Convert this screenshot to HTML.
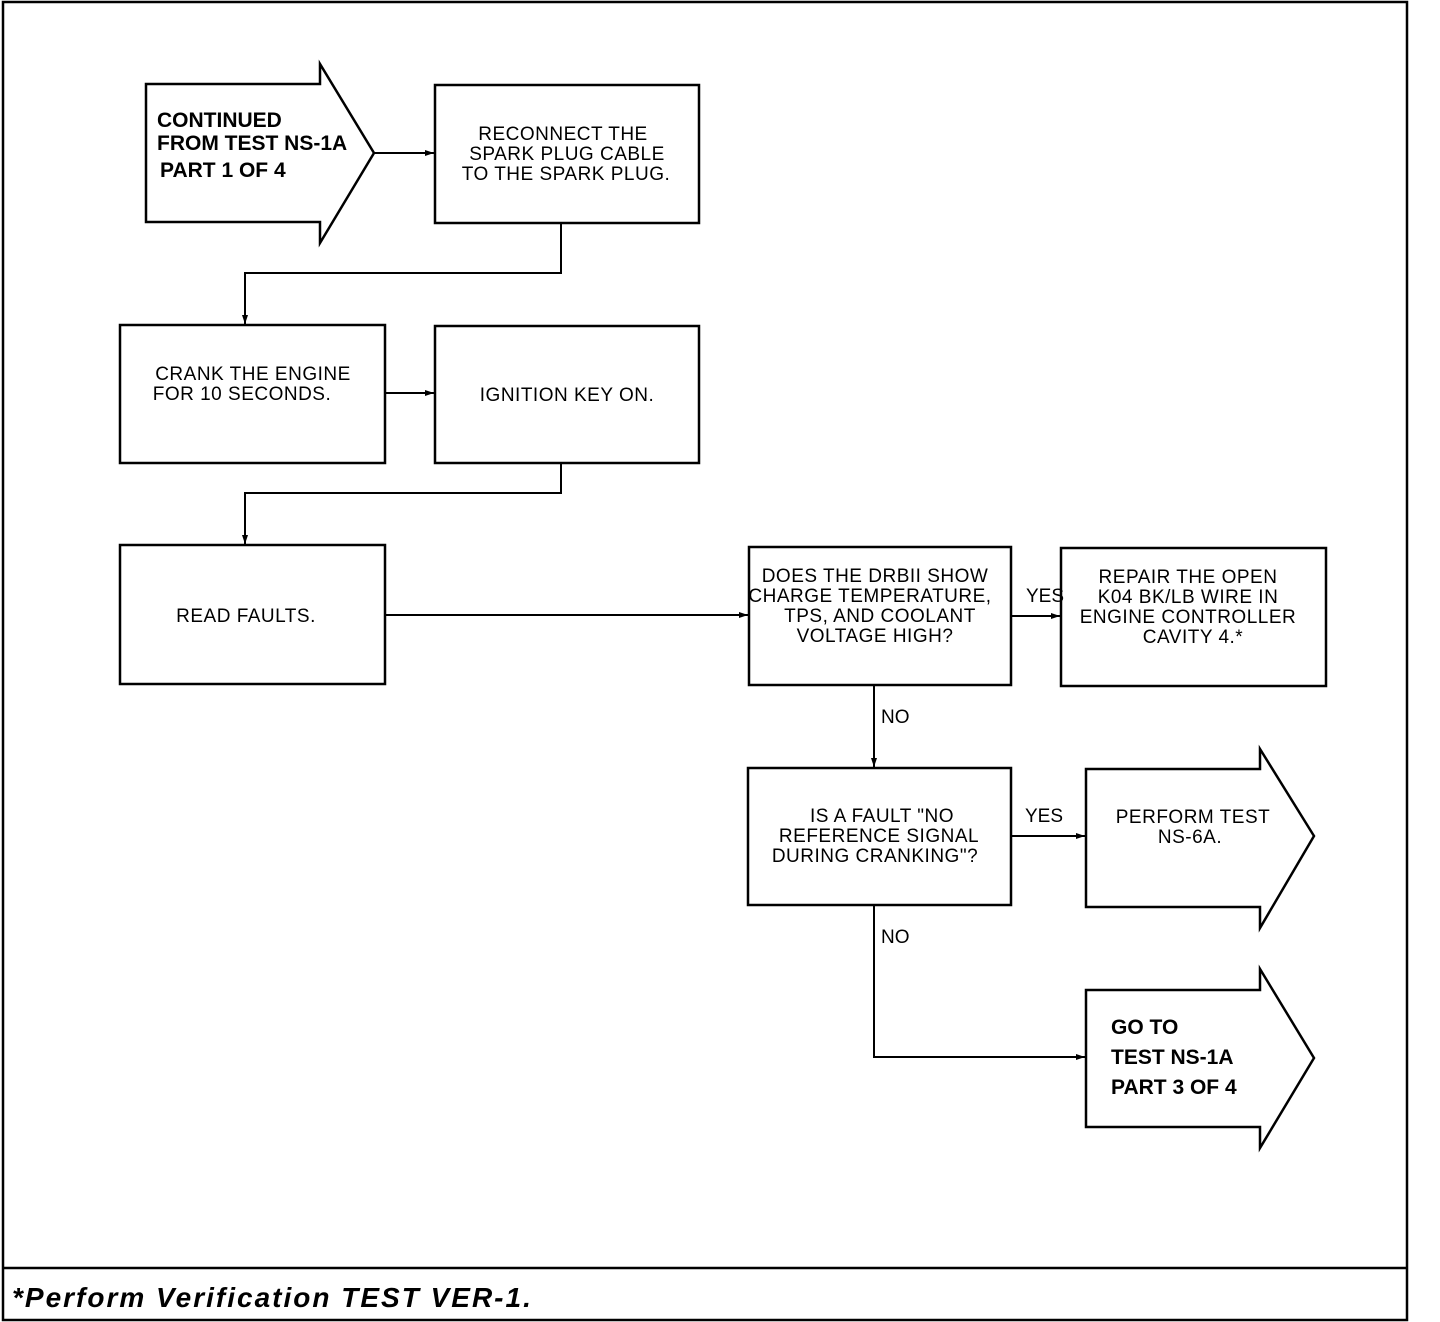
<!DOCTYPE html>
<html><head><meta charset="utf-8"><style>
html,body{margin:0;padding:0;background:#fff;}
svg{display:block;}
.t{font-family:"Liberation Sans",sans-serif;font-size:19px;fill:#000;text-anchor:middle;letter-spacing:0.5px;}
.b{font-family:"Liberation Sans",sans-serif;font-size:21px;font-weight:bold;fill:#000;letter-spacing:0px;}
.l{font-family:"Liberation Sans",sans-serif;font-size:19px;fill:#000;}
</style></head><body>
<svg width="1440" height="1322" viewBox="0 0 1440 1322" xmlns="http://www.w3.org/2000/svg">
<defs><marker id="a" markerWidth="10" markerHeight="8" refX="9" refY="4" orient="auto" markerUnits="userSpaceOnUse"><path d="M0,1 L9,4 L0,7 Z" fill="#000"/></marker></defs>
<g fill="none" stroke="#000" stroke-width="2.5">
<rect x="3" y="2" width="1404" height="1318"/>
<line x1="3" y1="1268" x2="1407" y2="1268"/>
<path d="M146,84 H320 V64 L374,153 L320,243 V222 H146 Z"/>
<rect x="435" y="85" width="264" height="138"/>
<rect x="120" y="325" width="265" height="138"/>
<rect x="435" y="326" width="264" height="137"/>
<rect x="120" y="545" width="265" height="139"/>
<rect x="749" y="547" width="262" height="138"/>
<rect x="1061" y="548" width="265" height="138"/>
<rect x="748" y="768" width="263" height="137"/>
<path d="M1086,769 H1260 V749 L1314,836 L1260,928 V907 H1086 Z"/>
<path d="M1086,990 H1260 V969 L1314,1058 L1260,1148 V1127 H1086 Z"/>
</g>
<g fill="none" stroke="#000" stroke-width="2" marker-end="url(#a)">
<line x1="374" y1="153" x2="434" y2="153"/>
<path d="M561,223 V273 H245 V324"/>
<line x1="385" y1="393" x2="434" y2="393"/>
<path d="M561,463 V493 H245 V544"/>
<line x1="385" y1="615" x2="748" y2="615"/>
<line x1="1011" y1="616" x2="1060" y2="616"/>
<line x1="874" y1="685" x2="874" y2="767"/>
<line x1="1011" y1="836" x2="1085" y2="836"/>
<path d="M874,905 V1057 H1085"/>
</g>
<text class="b" x="157" y="127">CONTINUED</text>
<text class="b" x="157" y="150">FROM TEST NS-1A</text>
<text class="b" x="160" y="177">PART 1 OF 4</text>
<text class="t" x="563" y="140">RECONNECT THE</text>
<text class="t" x="567" y="160">SPARK PLUG CABLE</text>
<text class="t" x="566" y="180">TO THE SPARK PLUG.</text>
<text class="t" x="253" y="380">CRANK THE ENGINE</text>
<text class="t" x="242" y="400">FOR 10 SECONDS.</text>
<text class="t" x="567" y="401">IGNITION KEY ON.</text>
<text class="t" x="246" y="622">READ FAULTS.</text>
<text class="t" x="875" y="582">DOES THE DRBII SHOW</text>
<text class="t" x="870" y="602">CHARGE TEMPERATURE,</text>
<text class="t" x="880" y="622">TPS, AND COOLANT</text>
<text class="t" x="875" y="642">VOLTAGE HIGH?</text>
<text class="l" x="1026" y="602">YES</text>
<text class="t" x="1188" y="583">REPAIR THE OPEN</text>
<text class="t" x="1188" y="603">K04 BK/LB WIRE IN</text>
<text class="t" x="1188" y="623">ENGINE CONTROLLER</text>
<text class="t" x="1193" y="643">CAVITY 4.*</text>
<text class="l" x="881" y="723">NO</text>
<text class="t" x="882" y="822">IS A FAULT "NO</text>
<text class="t" x="879" y="842">REFERENCE SIGNAL</text>
<text class="t" x="875" y="862">DURING CRANKING"?</text>
<text class="l" x="1025" y="822">YES</text>
<text class="t" x="1193" y="823">PERFORM TEST</text>
<text class="t" x="1190" y="843">NS-6A.</text>
<text class="l" x="881" y="943">NO</text>
<text class="b" x="1111" y="1034">GO TO</text>
<text class="b" x="1111" y="1064">TEST NS-1A</text>
<text class="b" x="1111" y="1094">PART 3 OF 4</text>
<text x="12" y="1307" style="font-family:'Liberation Sans',sans-serif;font-size:28px;font-weight:bold;font-style:italic;letter-spacing:2px">*Perform Verification TEST VER-1.</text>
</svg>
</body></html>
